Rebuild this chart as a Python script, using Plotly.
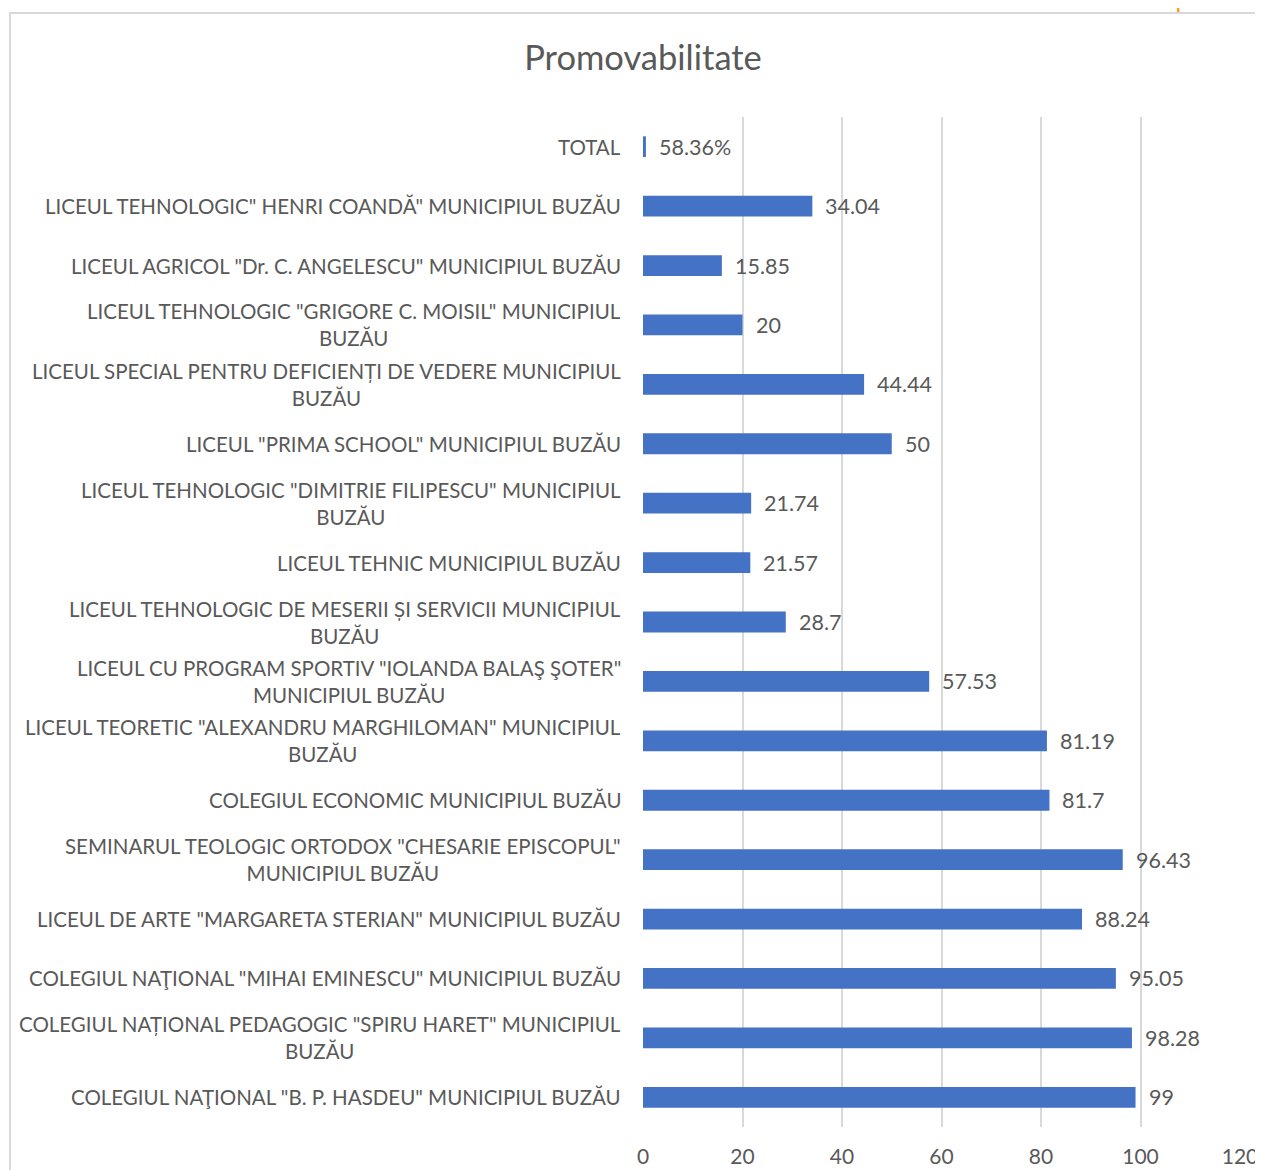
import plotly.graph_objects as go

categories = [
    "TOTAL",
    "LICEUL TEHNOLOGIC\" HENRI COANDĂ\" MUNICIPIUL BUZĂU",
    "LICEUL AGRICOL \"Dr. C. ANGELESCU\" MUNICIPIUL BUZĂU",
    "LICEUL TEHNOLOGIC \"GRIGORE C. MOISIL\" MUNICIPIUL<br>BUZĂU",
    "LICEUL SPECIAL PENTRU DEFICIENȚI DE VEDERE MUNICIPIUL<br>BUZĂU",
    "LICEUL \"PRIMA SCHOOL\" MUNICIPIUL BUZĂU",
    "LICEUL TEHNOLOGIC \"DIMITRIE FILIPESCU\" MUNICIPIUL<br>BUZĂU",
    "LICEUL TEHNIC MUNICIPIUL BUZĂU",
    "LICEUL TEHNOLOGIC DE MESERII ȘI SERVICII MUNICIPIUL<br>BUZĂU",
    "LICEUL CU PROGRAM SPORTIV \"IOLANDA BALAŞ ŞOTER\"<br>MUNICIPIUL BUZĂU",
    "LICEUL TEORETIC \"ALEXANDRU MARGHILOMAN\" MUNICIPIUL<br>BUZĂU",
    "COLEGIUL ECONOMIC MUNICIPIUL BUZĂU",
    "SEMINARUL TEOLOGIC ORTODOX \"CHESARIE EPISCOPUL\"<br>MUNICIPIUL BUZĂU",
    "LICEUL DE ARTE \"MARGARETA STERIAN\" MUNICIPIUL BUZĂU",
    "COLEGIUL NAŢIONAL \"MIHAI EMINESCU\" MUNICIPIUL BUZĂU",
    "COLEGIUL NAȚIONAL PEDAGOGIC \"SPIRU HARET\" MUNICIPIUL<br>BUZĂU",
    "COLEGIUL NAŢIONAL \"B. P. HASDEU\" MUNICIPIUL BUZĂU",
]
values = [0.5836, 34.04, 15.85, 20, 44.44, 50, 21.74, 21.57, 28.7, 57.53,
          81.19, 81.7, 96.43, 88.24, 95.05, 98.28, 99]
value_labels = ["58.36%", "34.04", "15.85", "20", "44.44", "50", "21.74", "21.57",
                "28.7", "57.53", "81.19", "81.7", "96.43", "88.24", "95.05", "98.28", "99"]
x_ticks = [0, 20, 40, 60, 80, 100, 120]

FONT = "Lato"
GREY = "#595959"

# page body has an 8px margin; figure origin sits at (8, 8) in the window
W, H = 1255, 1162
L, T = 635, 109
PW, PH = 597, 1010

fig = go.Figure()
fig.add_trace(go.Bar(
    y=list(range(len(categories))), x=values, orientation="h",
    marker=dict(color="#4472c4", line=dict(width=0)),
    width=0.35, hoverinfo="skip",
))

annotations = []
for i, (c, v, t) in enumerate(zip(categories, values, value_labels)):
    annotations.append(dict(
        x=0, y=i, xref="paper", yref="y", text=c, showarrow=False,
        xanchor="right", yanchor="middle", align="center", xshift=-20,
        font=dict(family=FONT, size=20.5, color=GREY),
    ))
    annotations.append(dict(
        x=v, y=i, xref="x", yref="y", text=t, showarrow=False,
        xanchor="left", yanchor="middle", xshift=11,
        font=dict(family=FONT, size=21.5, color=GREY),
    ))
annotations.append(dict(
    x=(1160 - 8 - L) / PW, y=(T + PH - 7) / PH, xref="paper", yref="paper",
    text="open data", showarrow=False, xanchor="left", yanchor="bottom",
    font=dict(family=FONT, size=24, color="#f7941d"),
))

fig.update_layout(
    width=W, height=H,
    margin=dict(l=L, r=W - L - PW, t=T, b=H - T - PH, autoexpand=False),
    paper_bgcolor="white", plot_bgcolor="white",
    showlegend=False,
    title=dict(text="Promovabilitate", x=(643 - 8) / W, xanchor="center",
               y=1 - (58 - 8) / H, yanchor="middle",
               font=dict(family=FONT, size=34.5, color=GREY)),
    xaxis=dict(range=[0, 120], tickvals=x_ticks, showgrid=True, automargin=False,
               gridcolor="#d9d9d9", gridwidth=2, zeroline=False,
               showline=False, ticks="", tickfont=dict(family=FONT, size=21, color=GREY),
               ticklabelstandoff=15),
    yaxis=dict(range=[len(categories) - 0.5, -0.5], showticklabels=False, automargin=False,
               showgrid=False, zeroline=False, showline=False, ticks=""),
    annotations=annotations,
    shapes=[dict(type="rect", xref="paper", yref="paper",
                 x0=(2 - L) / PW, x1=1.2, y0=-0.2, y1=(T + PH - 5) / PH,
                 line=dict(color="#d9d9d9", width=2), layer="below")],
)

fig.write_html("out.html")
